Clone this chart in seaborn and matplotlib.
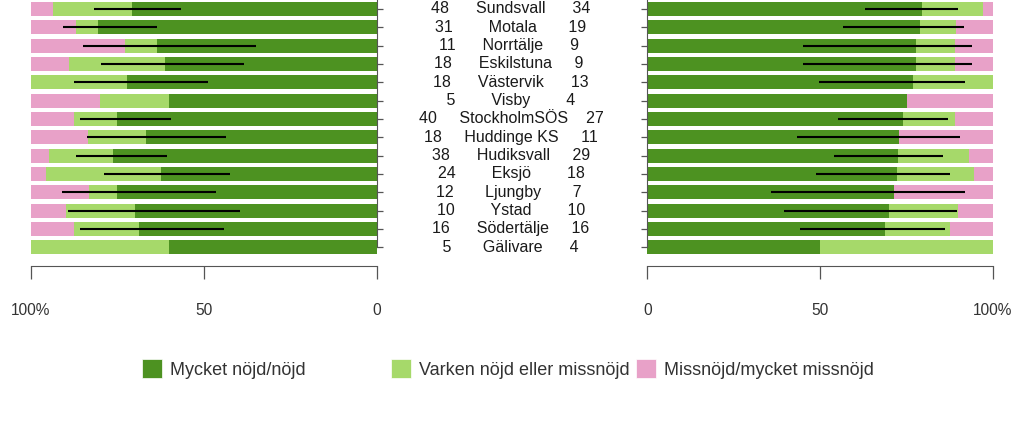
import numpy as np
import pandas as pd
import seaborn as sns
import matplotlib
matplotlib.use("Agg")
import matplotlib.pyplot as plt
from matplotlib.patches import Patch
from matplotlib.transforms import blended_transform_factory

# data
hospitals = ["Sundsvall", "Motala", "Norrtälje", "Eskilstuna", "Västervik", "Visby",
             "StockholmSÖS", "Huddinge KS", "Hudiksvall", "Eksjö", "Ljungby", "Ystad",
             "Södertälje", "Gälivare"]
n_left = [48, 31, 11, 18, 18, 5, 40, 18, 38, 24, 12, 10, 16, 5]
n_right = [34, 19, 9, 9, 13, 4, 27, 11, 29, 18, 7, 10, 16, 4]

left_nojd = [70.8, 80.6, 63.6, 61.1, 72.2, 60.0, 75.0, 66.7, 76.3, 62.5, 75.0, 70.0, 68.8, 60.0]
left_varken = [22.9, 6.5, 9.1, 27.8, 27.8, 20.0, 12.5, 16.7, 18.4, 33.3, 8.3, 20.0, 18.8, 40.0]
left_missnojd = [6.3, 12.9, 27.3, 11.1, 0.0, 20.0, 12.5, 16.7, 5.3, 4.2, 16.7, 10.0, 12.5, 0.0]
left_lo = [56.6, 63.6, 35.0, 38.3, 48.8, np.nan, 59.5, 43.5, 60.6, 42.4, 46.5, 39.4, 44.2, np.nan]
left_hi = [81.7, 90.8, 84.9, 79.7, 87.5, np.nan, 85.8, 83.8, 87.0, 78.8, 91.1, 89.4, 85.9, np.nan]

right_nojd = [79.4, 78.9, 77.8, 77.8, 76.9, 75.0, 74.1, 72.7, 72.4, 72.2, 71.4, 70.0, 68.8, 50.0]
right_varken = [17.6, 10.5, 11.1, 11.1, 23.1, 0.0, 14.8, 0.0, 20.7, 22.2, 0.0, 20.0, 18.8, 50.0]
right_missnojd = [2.9, 10.5, 11.1, 11.1, 0.0, 25.0, 11.1, 27.3, 6.9, 5.6, 28.6, 10.0, 12.5, 0.0]
right_lo = [63.1, 56.6, 45.1, 45.1, 49.6, np.nan, 55.2, 43.2, 54.1, 48.9, 35.7, 39.6, 44.2, np.nan]
right_hi = [89.9, 91.7, 93.9, 93.9, 92.0, np.nan, 87.0, 90.5, 85.5, 87.7, 92.0, 89.5, 86.0, np.nan]

categories = ["Mycket nöjd/nöjd", "Varken nöjd eller missnöjd", "Missnöjd/mycket missnöjd"]
colors = ["#4d9221", "#a6d96a", "#e8a1c8"]

sns.set_style("white")
plt.rcParams["font.family"] = ["Liberation Sans", "DejaVu Sans"]
axis_col = "#555555"
text_col = "#333333"

fig = plt.figure(figsize=(10.24, 4.21), dpi=100)
ax_l = fig.add_axes([31 / 1024, 1 - 257 / 421, 345.7 / 1024, 257 / 421])
ax_r = fig.add_axes([647.3 / 1024, 1 - 257 / 421, 345.7 / 1024, 257 / 421])


def draw_side(ax, nojd, varken, miss, lo, hi):
    df = pd.DataFrame({"sjukhus": hospitals, "nojd": nojd, "varken": varken, "miss": miss})
    df["cum2"] = df["nojd"] + df["varken"]
    df["cum3"] = df["cum2"] + df["miss"]
    for col, c in zip(["cum3", "cum2", "nojd"], colors[::-1]):
        sns.barplot(data=df, x=col, y="sjukhus", color=c, saturation=1, width=0.76,
                    orient="h", ax=ax, linewidth=0)
    ok = ~np.isnan(np.array(lo))
    ys = np.arange(len(hospitals))
    ax.hlines(ys[ok], np.array(lo)[ok], np.array(hi)[ok], color="black", lw=1.5, zorder=5)
    ax.set_ylim(13.53, -0.49)
    ax.set_xlabel("")
    ax.set_ylabel("")
    ax.set_yticklabels([])
    for s in ax.spines.values():
        s.set_visible(False)
    ax.spines["bottom"].set_visible(True)
    ax.spines["bottom"].set_position(("outward", 6.5))
    ax.spines["bottom"].set_color(axis_col)
    ax.set_xticks([0, 50, 100])
    ax.tick_params(axis="x", bottom=True, direction="out", length=9.5, width=0.9,
                   color=axis_col, pad=17, labelsize=11.2, labelcolor=text_col)
    ax.tick_params(axis="y", direction="out", length=4.5, width=0.9, color=axis_col)


draw_side(ax_l, left_nojd, left_varken, left_missnojd, left_lo, left_hi)
ax_l.set_xlim(100, 0)
ax_l.set_xticklabels(["0", "50", "100%"])
ax_l.spines["right"].set_visible(True)
ax_l.spines["right"].set_color(axis_col)
ax_l.spines["right"].set_bounds(13, -0.6)
ax_l.yaxis.tick_right()

draw_side(ax_r, right_nojd, right_varken, right_missnojd, right_lo, right_hi)
ax_r.set_xlim(0, 100)
ax_r.set_xticklabels(["0", "50", "100%"])
ax_r.spines["left"].set_visible(True)
ax_r.spines["left"].set_color(axis_col)
ax_r.spines["left"].set_bounds(13, -0.6)
ax_r.yaxis.tick_left()

# middle labels: n left, name, n right
trans = blended_transform_factory(fig.transFigure, ax_l.transData)
for i, (a, name, b) in enumerate(zip(n_left, hospitals, n_right)):
    label = f"{a:>2}    {name.center(13)}    {b:<2}"
    ax_l.text(511 / 1024, i, label, transform=trans, ha="center", va="center",
              fontsize=11.5, color="#1a1a1a", clip_on=False)

# legend: three fixed-width entries
for x0, lab, c in zip([142, 391, 636], categories, colors):
    fig.legend(handles=[Patch(facecolor=c, edgecolor="white", linewidth=0.5, label=lab)],
               loc="center left", bbox_to_anchor=(x0 / 1024, 1 - 369 / 421),
               frameon=False, fontsize=13, handlelength=1.1, handleheight=1.2,
               handletextpad=0.45, borderpad=0, borderaxespad=0, labelcolor=text_col)

fig.savefig("out.png", dpi=100)
